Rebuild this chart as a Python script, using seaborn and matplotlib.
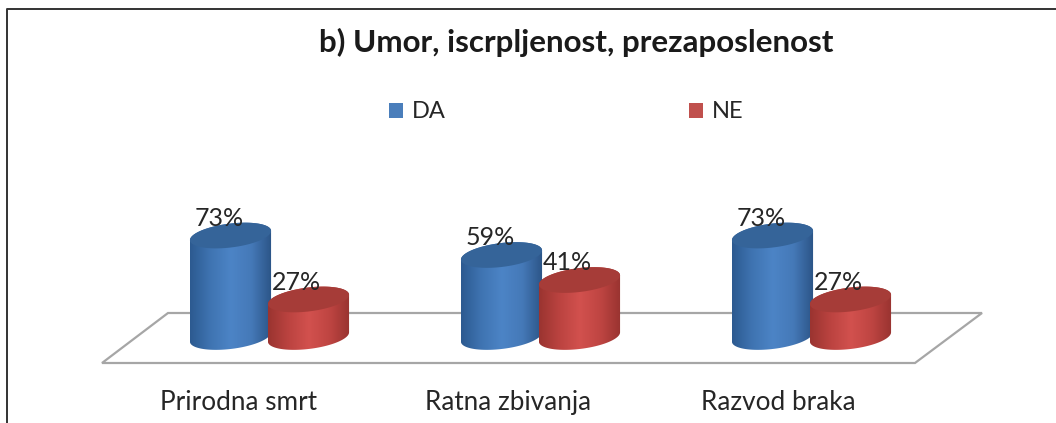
import numpy as np
import pandas as pd
import seaborn as sns
import matplotlib.pyplot as plt
from matplotlib.colors import LinearSegmentedColormap
from matplotlib.lines import Line2D
from matplotlib.patches import Patch, Polygon
from matplotlib.transforms import ScaledTranslation

# Datos
categorias = ['Prirodna smrt', 'Ratna zbivanja', 'Razvod braka']
da = [73, 59, 73]
ne = [27, 41, 27]
series = ['DA', 'NE']

W, H = 1056, 423
BASE = 337      # pixel y of the floor line the bars stand on
PX_POR_PCT = 1.39
PX_POR_CAT = 271
CENTRO = 269.5

data = pd.DataFrame({
    'cat': categorias * 2,
    'serie': ['DA'] * 3 + ['NE'] * 3,
    'val': da + ne,
})

sns.set_theme(style='white')
plt.rcParams['font.family'] = ['Lato', 'DejaVu Sans']
texto = '#262626'

fig = plt.figure(figsize=(W / 100, H / 100), dpi=100)
ax = fig.add_axes([0, (H - BASE) / H, 1, BASE / H])
ax.patch.set_alpha(0)

sns.barplot(data=data, x='cat', y='val', hue='serie', hue_order=series,
            order=categorias, width=78 * 2 / PX_POR_CAT, gap=0,
            legend=False, ax=ax)
xlim = (-CENTRO / PX_POR_CAT, (W - CENTRO) / PX_POR_CAT)
ylim = (0, BASE / PX_POR_PCT)


def fig_px(puntos):
    return [(x / W, 1 - y / H) for x, y in puntos]


# marco (only left and top edges are in the crop) y piso
marco = np.array(fig_px([(6.5, H), (6.5, 9.5), (W, 9.5)]))
fig.add_artist(Line2D(marco[:, 0], marco[:, 1], transform=fig.transFigure,
                      color='#333333', lw=1.4))
fig.add_artist(Polygon(fig_px([(102, 363), (168, 313), (982, 313), (915, 363)]),
                       closed=True, transform=fig.transFigure, fill=False,
                       ec='#a6a6a6', lw=1.6, zorder=0))

grad = {
    'DA': LinearSegmentedColormap.from_list('da', ['#2c5a90', '#3f74b2', '#4c84c6', '#4579b8', '#2b5486']),
    'NE': LinearSegmentedColormap.from_list('ne', ['#9a3430', '#bb4340', '#d2514e', '#bf4542', '#983330']),
}
tapa = {'DA': '#356499', 'NE': '#a63c38'}
TILT = np.tan(np.radians(6.5))
B_MENOR = 12


def cilindro(cx, alto, ancho, serie, z):
    # outline in pixels relative to the bar foot, converted to data units
    a = ancho * 1.04 / 2
    t = np.linspace(0, np.pi, 60)
    ex = a * np.cos(t)
    ey = B_MENOR * np.sin(t) + TILT * ex
    arriba = np.column_stack([cx + ex / PX_POR_CAT, alto + ey / PX_POR_PCT])
    abajo = np.column_stack([cx - ex / PX_POR_CAT, -ey / PX_POR_PCT])
    cuerpo = Polygon(np.vstack([arriba, abajo]), closed=True, fc='none', ec='none', zorder=z,
                     clip_on=False)
    ax.add_patch(cuerpo)
    ext = [cx - a / PX_POR_CAT, cx + a / PX_POR_CAT, -20, alto + 20]
    img = ax.imshow(np.linspace(0, 1, 256)[None, :], cmap=grad[serie], extent=ext,
                    aspect='auto', zorder=z, interpolation='bilinear')
    img.set_clip_path(cuerpo)
    img.set_clip_box(fig.bbox)  # the foot of the cylinder hangs below the axes
    cierre = np.column_stack([cx - ex / PX_POR_CAT, alto - ey / PX_POR_PCT])
    ax.add_patch(Polygon(np.vstack([arriba, cierre]), closed=True, fc=tapa[serie], ec='none',
                         zorder=z + 0.1))


# one container per hue level
for i, (serie, cont) in enumerate(zip(series, ax.containers)):
    for barra in cont:
        barra.set_alpha(0)
        cx = barra.get_x() + barra.get_width() / 2
        alto = barra.get_height()
        cilindro(cx, alto, barra.get_width() * PX_POR_CAT, serie, 3 + i)
        ax.annotate(f'{alto:.0f}%', (cx, alto), xytext=(-8.5, 7), textcoords='offset points',
                    ha='center', va='baseline', fontsize=18, color=texto, zorder=6,
                    annotation_clip=False)

ax.set_xlim(xlim)
ax.set_ylim(ylim)
ax.set_xlabel('')
ax.set_ylabel('')
ax.set_yticks([])
ax.tick_params(axis='x', length=0, pad=38.5, labelsize=18.8, labelcolor=texto)
sns.despine(ax=ax, left=True, bottom=True)

# the category labels sit left of their groups in the original
for lab, dx in zip(ax.get_xticklabels(), [-31, -32, -33]):
    lab.set_transform(lab.get_transform() + ScaledTranslation(dx / 100, 0, fig.dpi_scale_trans))

ax.text(576 / W, 1 - 42 / BASE, 'b) Umor, iscrpljenost, prezaposlenost', transform=ax.transAxes,
        ha='center', va='center', fontsize=22.6, fontweight='bold', color='#1a1a1a')

asas = [Patch(fc='#4a7ebb', ec='none', label='DA'), Patch(fc='#c0504d', ec='none', label='NE')]
ax.legend(handles=asas, ncol=2, frameon=False, fontsize=17, loc='center left',
          bbox_to_anchor=(389 / W, 1 - 112 / BASE), borderaxespad=0, borderpad=0,
          handlelength=0.6, handleheight=0.6, handletextpad=0.36, columnspacing=10.3,
          labelcolor=texto)

fig.savefig('out.png', dpi=100)
